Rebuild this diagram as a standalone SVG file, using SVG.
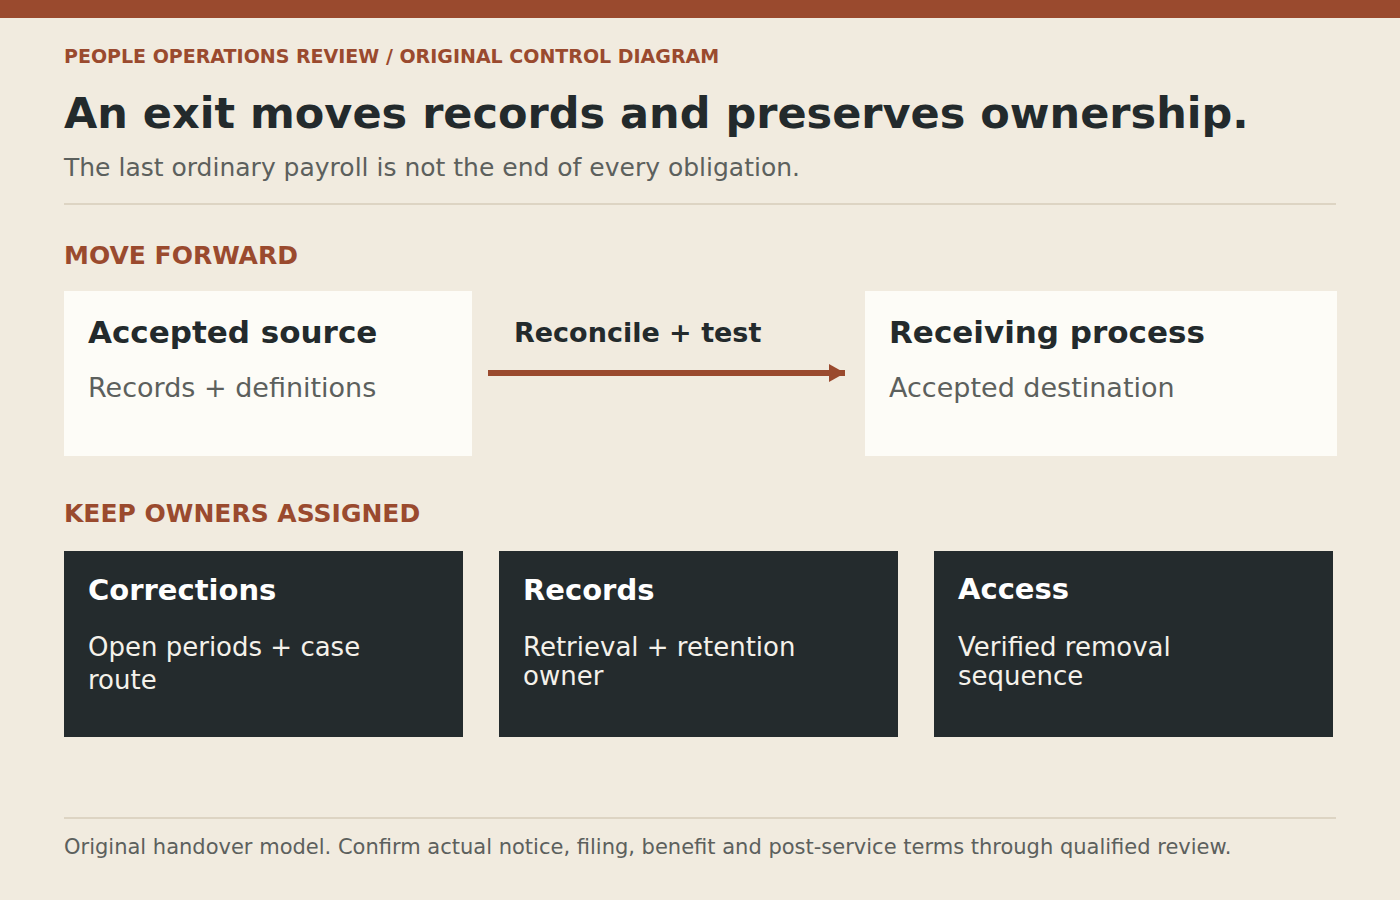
<svg xmlns="http://www.w3.org/2000/svg" width="1400" height="900" viewBox="0 0 1400 900">
<defs>
<style>
text{font-family:"DejaVu Sans","Liberation Sans",sans-serif}
.kicker{font-size:19px;font-weight:bold;fill:#9a4a2e}
.title{font-size:43px;font-weight:bold;fill:#232a2c}
.sub{font-size:25px;fill:#5c605d}
.sec{font-size:25px;font-weight:bold;fill:#9a4a2e}
.light{fill:#fdfcf7}
.dark{fill:#242b2d}
.lt{font-size:31px;font-weight:bold;fill:#232a2c}
.lb{font-size:27px;fill:#5c605d}
.dt{font-size:29px;font-weight:bold;fill:#ffffff}
.db{font-size:26px;fill:#f4f1ea}
.rule{stroke:#ddd4c3;stroke-width:2}
.foot{font-size:21px;fill:#5c605d}
.elabel{font-size:27px;font-weight:bold;fill:#232a2c}
</style>
<marker id="ah" markerWidth="16" markerHeight="18" refX="16" refY="9" orient="auto" markerUnits="userSpaceOnUse">
<path d="M0,0 L16,9 L0,18 Z" fill="#9a4a2e"/>
</marker>
</defs>
<rect width="1400" height="900" fill="#f1ebdf"/>
<rect width="1400" height="18" fill="#9a4a2e"/>
<text class="kicker" x="64" y="63">PEOPLE OPERATIONS REVIEW / ORIGINAL CONTROL DIAGRAM</text>
<text class="title" x="64" y="128">An exit moves records and preserves ownership.</text>
<text class="sub" x="64" y="176">The last ordinary payroll is not the end of every obligation.</text>
<line class="rule" x1="64" y1="204" x2="1336" y2="204"/>
<text class="sec" x="64" y="264">MOVE FORWARD</text>
<g id="accepted-source">
<rect class="light" x="64" y="291" width="408" height="165"/>
<text class="lt" x="88" y="343">Accepted source</text>
<text class="lb" x="88" y="397">Records + definitions</text>
</g>
<g id="receiving-process">
<rect class="light" x="865" y="291" width="472" height="165"/>
<text class="lt" x="889" y="343">Receiving process</text>
<text class="lb" x="889" y="397">Accepted destination</text>
</g>
<g id="connectors">
<line x1="488" y1="373" x2="845" y2="373" stroke="#9a4a2e" stroke-width="6" marker-end="url(#ah)"/>
<text class="elabel" x="514" y="342">Reconcile + test</text>
</g>
<text class="sec" x="64" y="522">KEEP OWNERS ASSIGNED</text>
<g id="corrections">
<rect class="dark" x="64" y="551" width="399" height="186"/>
<text class="dt" x="88" y="600">Corrections</text>
<text class="db" x="88" y="656">Open periods + case</text>
<text class="db" x="88" y="689">route</text>
</g>
<g id="records">
<rect class="dark" x="499" y="551" width="399" height="186"/>
<text class="dt" x="523" y="600">Records</text>
<text class="db" x="523" y="656">Retrieval + retention</text>
<text class="db" x="523" y="685">owner</text>
</g>
<g id="access">
<rect class="dark" x="934" y="551" width="399" height="186"/>
<text class="dt" x="958" y="599">Access</text>
<text class="db" x="958" y="656">Verified removal</text>
<text class="db" x="958" y="685">sequence</text>
</g>
<line class="rule" x1="64" y1="818" x2="1336" y2="818"/>
<text class="foot" x="64" y="854">Original handover model. Confirm actual notice, filing, benefit and post-service terms through qualified review.</text>
</svg>
